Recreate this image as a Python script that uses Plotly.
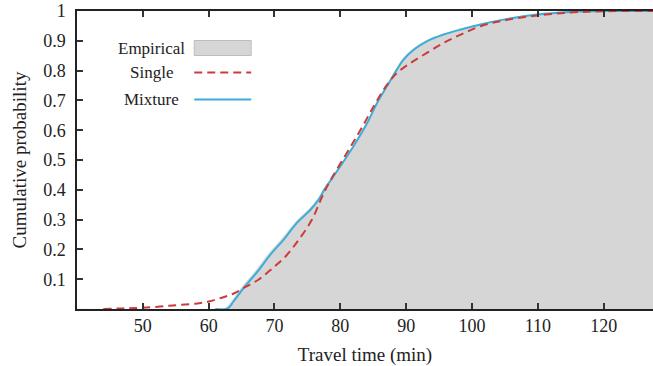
import plotly.graph_objects as go

# Empirical CDF (gray area)
emp_t = [40, 61.0, 62.6, 63.6, 65.1, 67.2, 69.2, 71.2, 73.2, 75.3, 76.6, 77.6, 78.8, 80.0, 82.0, 84.1, 85.6, 87.1,
         88.5, 89.5, 91.1, 93.1, 95.6, 98.3, 101.3, 104.8, 109.9, 115.0, 120.0, 127.5]
emp_p = [0, 0, 0.004, 0.03, 0.075, 0.13, 0.188, 0.238, 0.292, 0.337, 0.369, 0.407, 0.441, 0.48, 0.547, 0.627, 0.694,
         0.751, 0.806, 0.84, 0.874, 0.901, 0.922, 0.939, 0.956, 0.972, 0.988, 0.997, 1.0, 1.0]

# Single distribution CDF
single_t = [44, 47, 50, 54, 58, 60, 62, 63.8, 65.6, 67.6, 69.6, 71.7, 73.7, 75.7, 77.2, 78.5, 81.0, 83.1, 85.1,
            87.1, 88.6, 90.7, 93.2, 95.7, 98.3, 101.3, 104.8, 109.9, 115.0, 120.0, 127.5]
single_p = [0.0, 0.002, 0.004, 0.011, 0.018, 0.025, 0.038, 0.052, 0.074, 0.099, 0.135, 0.177, 0.233, 0.30, 0.375,
            0.432, 0.524, 0.602, 0.681, 0.753, 0.792, 0.826, 0.86, 0.893, 0.921, 0.949, 0.968, 0.985, 0.995, 0.999, 1.0]

# Mixture distribution CDF
mix_t = [61.0, 62.9, 63.8, 65.3, 67.4, 69.4, 71.4, 73.4, 75.5, 76.7, 77.7, 78.8, 80.0, 82.0, 84.1, 85.6, 87.1,
         88.6, 89.6, 91.2, 93.2, 95.7, 98.3, 101.3, 104.8, 109.9, 115.0, 120.0, 127.5]
mix_p = [0, 0.002, 0.026, 0.07, 0.125, 0.183, 0.233, 0.289, 0.334, 0.367, 0.405, 0.44, 0.479, 0.546, 0.625, 0.692,
         0.748, 0.804, 0.837, 0.871, 0.899, 0.921, 0.938, 0.955, 0.971, 0.988, 0.997, 1.0, 1.0]

x_ticks = [50, 60, 70, 80, 90, 100, 110, 120]
y_ticks = [0.1, 0.2, 0.3, 0.4, 0.5, 0.6, 0.7, 0.8, 0.9, 1]
y_labels = ["0.1", "0.2", "0.3", "0.4", "0.5", "0.6", "0.7", "0.8", "0.9", "1"]

FONT = "Liberation Serif, Times New Roman, serif"
GRAY = "#d6d6d6"
RED = "#cc3a3a"
BLUE = "#3aaed8"

fig = go.Figure()
fig.add_trace(go.Scatter(x=emp_t, y=emp_p, mode="lines", line=dict(color=GRAY, width=0.5, shape="spline"),
                         fill="tozeroy", fillcolor=GRAY, name="Empirical", showlegend=False))
fig.add_trace(go.Scatter(x=mix_t, y=mix_p, mode="lines", line=dict(color=BLUE, width=2, shape="spline"),
                         name="Mixture", showlegend=False))
fig.add_trace(go.Scatter(x=single_t, y=single_p, mode="lines",
                         line=dict(color=RED, width=2, dash="8px,5px", shape="spline"),
                         name="Single", showlegend=False))

# custom legend (text centred, symbol to the right)
def px2paper(px, py):
    return (px - 76.7) / 576.3, (309.5 - py) / 298.0

leg = [("Empirical", 49), ("Single", 73), ("Mixture", 100)]
for txt, py in leg:
    xp, yp = px2paper(151.5, py)
    fig.add_annotation(x=xp, y=yp, xref="paper", yref="paper", text=txt, showarrow=False,
                       xanchor="center", yanchor="middle", font=dict(family=FONT, size=17, color="#222"))
x0, y0 = px2paper(194, 56)
x1, y1 = px2paper(251, 41)
fig.add_shape(type="rect", xref="paper", yref="paper", x0=x0, x1=x1, y0=y0, y1=y1,
              fillcolor=GRAY, line=dict(color="#bdbdbd", width=1))
lx0, ly = px2paper(194, 73)
lx1, _ = px2paper(251, 73)
fig.add_shape(type="line", xref="paper", yref="paper", x0=lx0, x1=lx1, y0=ly, y1=ly,
              line=dict(color=RED, width=2, dash="8px,5px"))
lx0, ly = px2paper(194, 100)
lx1, _ = px2paper(251, 100)
fig.add_shape(type="line", xref="paper", yref="paper", x0=lx0, x1=lx1, y0=ly, y1=ly,
              line=dict(color=BLUE, width=2))

fig.update_layout(
    width=653, height=366,
    margin=dict(l=77, r=0, t=11, b=57),
    paper_bgcolor="white", plot_bgcolor="white",
    font=dict(family=FONT, size=18, color="#222"),
    xaxis=dict(range=[40, 127.5], tickvals=x_ticks, ticks="inside", ticklen=6, tickwidth=1.5,
               tickcolor="#333", showline=True, linecolor="#222", linewidth=1.5, mirror="ticks",
               showgrid=False, zeroline=False, ticklabelstandoff=0,
               title=dict(text="Travel time (min)", font=dict(family=FONT, size=19), standoff=12),
               tickfont=dict(family=FONT, size=18)),
    yaxis=dict(range=[0, 1], tickvals=y_ticks, ticktext=y_labels, ticks="inside", ticklen=6, tickwidth=1.5,
               tickcolor="#333", showline=True, linecolor="#222", linewidth=1.5, mirror=False,
               showgrid=False, zeroline=False, ticklabelstandoff=6,
               title=dict(text="Cumulative probability", font=dict(family=FONT, size=19), standoff=12),
               tickfont=dict(family=FONT, size=18)),
)

fig.write_html("out.html", config={"displayModeBar": False},
               post_script="document.body.style.margin='0';document.body.style.padding='0';")
